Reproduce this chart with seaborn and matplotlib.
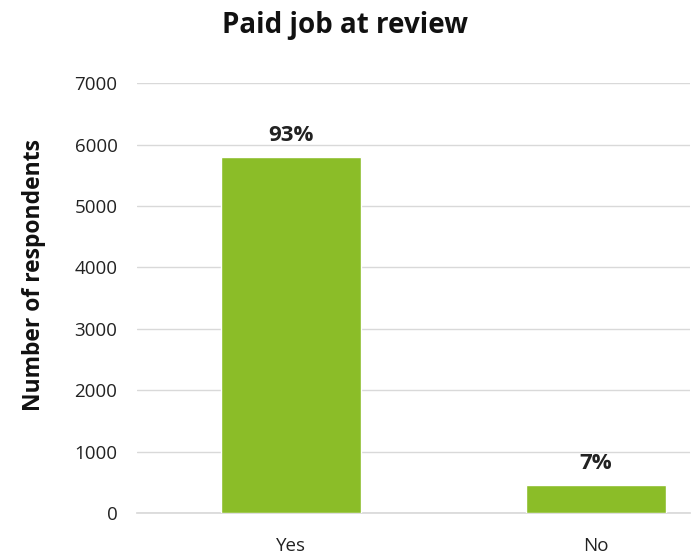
import matplotlib
matplotlib.use("Agg")
import matplotlib.pyplot as plt
import seaborn as sns
import pandas as pd

categories = ["Yes", "No"]
respondents = [5800, 455]
percent_labels = ["93%", "7%"]

BAR_COLOR = "#8BBD28"
GRID_COLOR = "#D9D9D9"

sns.set_theme(style="white")
plt.rcParams["font.family"] = ["Open Sans", "DejaVu Sans"]

df = pd.DataFrame({"category": categories, "respondents": respondents})

fig = plt.figure(figsize=(6.95, 5.58), dpi=100)
ax = fig.add_axes([0.197, 0.0806, 0.796, 0.7704])

sns.barplot(data=df, x="category", y="respondents", color=BAR_COLOR,
            width=0.46, saturation=1, ax=ax, zorder=3)

# percentage labels above each bar
for i, (val, lab) in enumerate(zip(respondents, percent_labels)):
    ax.annotate(lab, xy=(i, val), xytext=(0, 8), textcoords="offset points",
                ha="center", va="bottom", fontsize=16, fontweight="bold",
                color="#222222")

ax.set_ylim(0, 7000)
ax.set_yticks(range(0, 7001, 1000))
ax.set_xlim(-0.507, 1.31)
ax.yaxis.grid(True, color=GRID_COLOR, linewidth=1, zorder=0)
for s in ["top", "right", "left"]:
    ax.spines[s].set_visible(False)
ax.spines["bottom"].set_color(GRID_COLOR)
ax.tick_params(axis="both", length=0, labelsize=13.5, colors="#222222")
ax.tick_params(axis="x", pad=17)
ax.tick_params(axis="y", pad=14)
ax.set_xlabel("")
ax.set_ylabel("Number of respondents", fontsize=16.5, fontweight="bold",
              color="#111111")
ax.yaxis.set_label_coords(-0.165, 0.553)

fig.text(0.497, 0.955, "Paid job at review", ha="center", va="center",
         fontsize=20, fontweight="bold", color="#111111")

fig.savefig("out.png", dpi=100)
